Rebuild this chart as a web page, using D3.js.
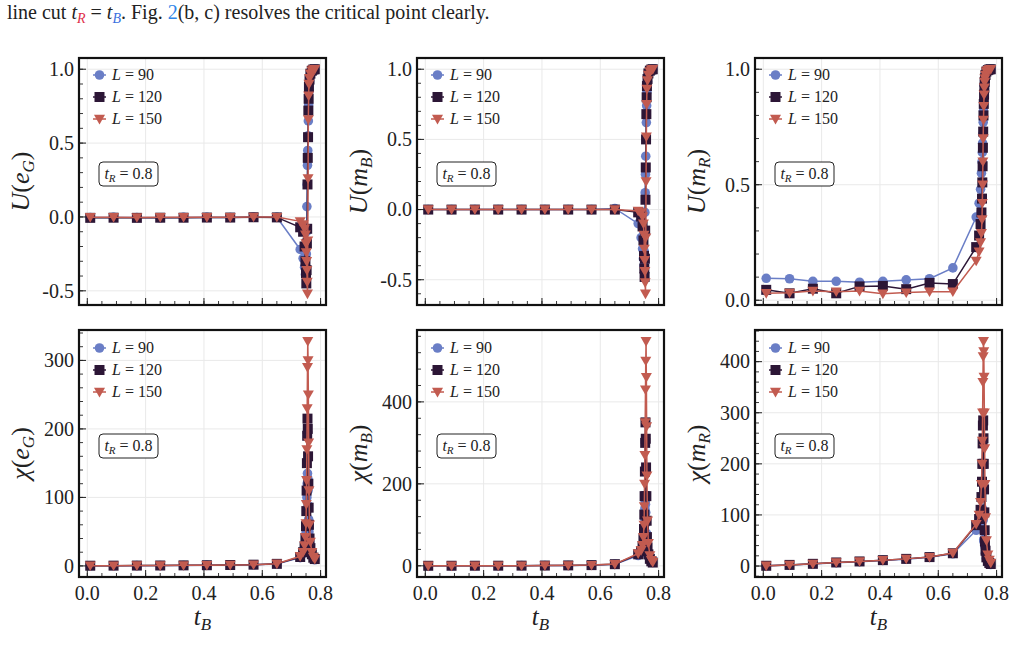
<!DOCTYPE html>
<html>
<head>
<meta charset="utf-8">
<script src="https://cdn.jsdelivr.net/npm/d3@7"></script>
<style>
  body { margin: 0; background: #fff; }
  svg { display: block; font-family: "Liberation Serif", "DejaVu Serif", serif; }
</style>
</head>
<body>
<svg id="chart" width="1025" height="665"></svg>
<script>
// t_B grid: coarse steps, then a fine scan through the transition
const tB = [0.01, 0.09, 0.17, 0.25, 0.33, 0.41, 0.49, 0.57, 0.65,
  0.73, 0.74, 0.745, 0.748, 0.75, 0.751, 0.752, 0.753, 0.754, 0.755,
  0.756, 0.757, 0.758, 0.759, 0.76, 0.762, 0.765, 0.77, 0.775, 0.78];

const sizes = ['90', '120', '150'];

// U(e_G)
const uEG_L90 = [-0.004, -0.003, -0.004, -0.006, -0.003, -0.003, -0.004, 0.0, -0.002,
  -0.22, -0.28, -0.34, -0.39, -0.37, -0.25, -0.10, 0.07, 0.22, 0.35,
  0.45, 0.55, 0.65, 0.76, 0.85, 0.92, 0.96, 0.985, 0.995, 1.0];
const uEG_L120 = [-0.006, -0.005, -0.006, -0.005, -0.005, -0.004, -0.004, -0.002, -0.003,
  -0.07, -0.10, -0.20, -0.30, -0.38, -0.45, -0.36, -0.18, -0.08, 0.22,
  0.40, 0.54, 0.72, 0.80, 0.88, 0.93, 0.97, 0.99, 0.998, 1.0];
const uEG_L150 = [-0.002, -0.002, -0.003, -0.002, -0.002, -0.002, -0.002, 0.0, -0.001,
  -0.03, -0.05, -0.08, -0.12, -0.18, -0.24, -0.30, -0.36, -0.44, -0.52,
  -0.16, 0.26, 0.66, 0.82, 0.90, 0.94, 0.97, 0.99, 0.998, 1.0];

// U(m_B)
const uMB_L90 = [0.0, 0.0, 0.0, 0.0, 0.0, 0.0, 0.0, 0.0, 0.008,
  -0.10, -0.20, -0.28, -0.35, -0.40, -0.30, -0.18, -0.02, 0.12, 0.25,
  0.38, 0.50, 0.62, 0.74, 0.84, 0.91, 0.96, 0.985, 0.995, 1.0];
const uMB_L120 = [0.0, 0.0, 0.0, 0.0, 0.0, 0.0, 0.0, 0.0, 0.0,
  -0.02, -0.05, -0.12, -0.22, -0.33, -0.42, -0.48, -0.35, -0.15, 0.07,
  0.30, 0.50, 0.68, 0.80, 0.88, 0.93, 0.97, 0.99, 0.998, 1.0];
const uMB_L150 = [0.0, 0.0, 0.0, 0.0, 0.0, 0.0, 0.0, 0.0, 0.0,
  -0.01, -0.02, -0.05, -0.10, -0.18, -0.28, -0.36, -0.44, -0.52, -0.60,
  -0.20, 0.20, 0.52, 0.75, 0.86, 0.92, 0.96, 0.985, 0.997, 1.0];

// U(m_R)
const uMR_L90 = [0.095, 0.093, 0.082, 0.082, 0.078, 0.082, 0.088, 0.093, 0.14,
  0.36, 0.42, 0.48, 0.55, 0.60, 0.64, 0.68, 0.72, 0.77, 0.82,
  0.86, 0.90, 0.93, 0.95, 0.965, 0.98, 0.99, 0.996, 0.999, 1.0];
const uMR_L120 = [0.045, 0.03, 0.05, 0.03, 0.06, 0.062, 0.048, 0.075, 0.07,
  0.23, 0.28, 0.33, 0.38, 0.44, 0.51, 0.58, 0.66, 0.73, 0.80,
  0.85, 0.89, 0.92, 0.945, 0.96, 0.975, 0.99, 0.996, 0.999, 1.0];
const uMR_L150 = [0.03, 0.032, 0.04, 0.037, 0.04, 0.028, 0.033, 0.037, 0.037,
  0.17, 0.21, 0.25, 0.29, 0.35, 0.42, 0.50, 0.60, 0.70, 0.78,
  0.84, 0.89, 0.92, 0.945, 0.96, 0.975, 0.99, 0.996, 0.999, 1.0];

// chi(e_G)
const chiEG_L90 = [0.2, 0.3, 0.4, 0.5, 0.7, 0.9, 1.2, 1.7, 2.8,
  12, 18, 25, 35, 48, 62, 80, 100, 120, 135,
  128, 110, 88, 68, 50, 35, 24, 16, 11, 9];
const chiEG_L120 = [0.3, 0.4, 0.5, 0.6, 0.8, 1.0, 1.3, 1.8, 3.0,
  13, 20, 28, 40, 58, 80, 110, 150, 190, 215,
  200, 160, 120, 85, 60, 40, 26, 17, 12, 10];
const chiEG_L150 = [0.3, 0.4, 0.5, 0.6, 0.8, 1.0, 1.3, 1.8, 3.1,
  14, 20, 30, 42, 62, 90, 125, 170, 230, 290,
  328, 300, 250, 180, 110, 60, 35, 20, 13, 10];

// chi(m_B)
const chiMB_L90 = [0.1, 0.15, 0.2, 0.3, 0.4, 0.6, 0.9, 1.5, 3.5,
  25, 32, 42, 55, 72, 92, 115, 140, 158, 150,
  130, 105, 80, 60, 45, 32, 22, 14, 10, 8];
const chiMB_L120 = [0.1, 0.15, 0.2, 0.3, 0.45, 0.65, 1.0, 1.7, 4.0,
  28, 36, 48, 65, 90, 125, 170, 230, 300, 350,
  310, 240, 170, 110, 70, 45, 28, 17, 11, 8];
const chiMB_L150 = [0.1, 0.15, 0.2, 0.3, 0.45, 0.7, 1.1, 1.8, 4.2,
  30, 38, 50, 70, 100, 145, 200, 270, 350, 430,
  500, 548, 460, 340, 220, 110, 55, 25, 14, 9];

// chi(m_R)
const chiMR_L90 = [0.5, 2.0, 4.0, 6.5, 8.5, 11, 13.5, 17, 24,
  70, 75, 82, 90, 100, 108, 112, 105, 90, 70,
  52, 48, 48, 46, 38, 25, 15, 8, 5, 3];
const chiMR_L120 = [0.5, 2.2, 4.3, 7.0, 9.0, 11.5, 14, 17.5, 25,
  80, 92, 110, 135, 165, 200, 240, 275, 285, 250,
  200, 150, 105, 70, 48, 30, 17, 10, 6, 4];
const chiMR_L150 = [0.5, 2.2, 4.3, 7.0, 9.0, 11.5, 14, 17.5, 25.5,
  82, 100, 125, 160, 200, 245, 300, 360, 410, 440,
  420, 370, 300, 230, 160, 95, 50, 22, 12, 6];

// tick values
const xTicks = [0.0, 0.2, 0.4, 0.6, 0.8];
const uTicks = [-0.5, 0.0, 0.5, 1.0];
const uMRTicks = [0.0, 0.5, 1.0];
const chiEGTicks = [0, 100, 200, 300];
const chiMBTicks = [0, 200, 400];
const chiMRTicks = [0, 100, 200, 300, 400];

const colors = ['#6a7ec6', '#2c1636', '#c25b50'];
const shapes = ['circle', 'square', 'triangle'];

// panel table built from the arrays above
const panels = [
  { sym: 'U', arg: 'e', sub: 'G', series: [uEG_L90, uEG_L120, uEG_L150], ticks: uTicks, minor: 0.1, fmt: '.1f' },
  { sym: 'U', arg: 'm', sub: 'B', series: [uMB_L90, uMB_L120, uMB_L150], ticks: uTicks, minor: 0.1, fmt: '.1f' },
  { sym: 'U', arg: 'm', sub: 'R', series: [uMR_L90, uMR_L120, uMR_L150], ticks: uMRTicks, minor: 0.1, fmt: '.1f' },
  { sym: 'χ', arg: 'e', sub: 'G', series: [chiEG_L90, chiEG_L120, chiEG_L150], ticks: chiEGTicks, minor: 20, fmt: 'd' },
  { sym: 'χ', arg: 'm', sub: 'B', series: [chiMB_L90, chiMB_L120, chiMB_L150], ticks: chiMBTicks, minor: 40, fmt: 'd' },
  { sym: 'χ', arg: 'm', sub: 'R', series: [chiMR_L90, chiMR_L120, chiMR_L150], ticks: chiMRTicks, minor: 20, fmt: 'd' }
];

const locale = d3.formatLocale({ decimal: '.', thousands: ',', grouping: [3], currency: ['', ''], minus: '-' });

const svg = d3.select('#chart');
svg.append('rect').attr('width', 1025).attr('height', 665).attr('fill', '#fff');

// running text above the figure
const head = svg.append('text').attr('x', 7).attr('y', 19).attr('font-size', 20).attr('fill', '#222');
head.append('tspan').text('line cut ');
head.append('tspan').attr('font-style', 'italic').text('t');
head.append('tspan').attr('font-style', 'italic').attr('font-size', 14).attr('dy', 4).attr('fill', '#e0304a').text('R');
head.append('tspan').attr('dy', -4).text(' = ');
head.append('tspan').attr('font-style', 'italic').text('t');
head.append('tspan').attr('font-style', 'italic').attr('font-size', 14).attr('dy', 4).attr('fill', '#3a6fe0').text('B');
head.append('tspan').attr('dy', -4).text('. Fig. ');
head.append('tspan').attr('fill', '#2f86e8').text('2');
head.append('tspan').text('(b, c) resolves the critical point clearly.');

const lefts = [79, 417, 755];
const tops = [58, 330];
const W = 247, H = 247;

function markerPath(shape) {
  if (shape === 'circle') return d3.symbol(d3.symbolCircle, 72)();
  if (shape === 'square') return 'M-5,-5H5V5H-5Z';
  return 'M-5.5,-4.2L5.5,-4.2L0,5.4Z';
}

panels.forEach(function (p, i) {
  const col = i % 3, row = Math.floor(i / 3);
  const x0 = lefts[col], y0 = tops[row];
  const g = svg.append('g').attr('transform', 'translate(' + x0 + ',' + y0 + ')');

  // same padding rule as matplotlib's autoscale (5% of the data span)
  const xExt = d3.extent(tB);
  const xPad = (xExt[1] - xExt[0]) * 0.05;
  const x = d3.scaleLinear().domain([xExt[0] - xPad, xExt[1] + xPad]).range([0, W]);
  const yExt = d3.extent(p.series.flat());
  const yPad = (yExt[1] - yExt[0]) * 0.05;
  const y = d3.scaleLinear().domain([yExt[0] - yPad, yExt[1] + yPad]).range([H, 0]);

  const clipId = 'clip' + i;
  g.append('clipPath').attr('id', clipId).append('rect').attr('width', W).attr('height', H);

  // grid
  g.selectAll('.gx').data(xTicks).enter().append('line')
    .attr('x1', d => x(d)).attr('x2', d => x(d)).attr('y1', 0).attr('y2', H)
    .attr('stroke', '#e9e9e9').attr('stroke-width', 1);
  g.selectAll('.gy').data(p.ticks).enter().append('line')
    .attr('x1', 0).attr('x2', W).attr('y1', d => y(d)).attr('y2', d => y(d))
    .attr('stroke', '#e9e9e9').attr('stroke-width', 1);

  // series
  const plot = g.append('g').attr('clip-path', 'url(#' + clipId + ')');
  const line = d3.line().x((d, k) => x(tB[k])).y(d => y(d));
  p.series.forEach(function (vals, s) {
    plot.append('path').datum(vals).attr('d', line)
      .attr('fill', 'none').attr('stroke', colors[s]).attr('stroke-width', 1.5);
    plot.selectAll('.m' + s).data(vals).enter().append('path')
      .attr('d', markerPath(shapes[s]))
      .attr('transform', (d, k) => 'translate(' + x(tB[k]) + ',' + y(d) + ')')
      .attr('fill', colors[s]);
  });

  // legend
  sizes.forEach(function (L, s) {
    const ly = [17, 39, 61][s] + (row ? 1 : 0);
    g.append('line').attr('x1', 14).attr('x2', 27).attr('y1', ly).attr('y2', ly)
      .attr('stroke', colors[s]).attr('stroke-width', 1.5);
    g.append('path').attr('d', markerPath(shapes[s]))
      .attr('transform', 'translate(20.5,' + ly + ')').attr('fill', colors[s]);
    const t = g.append('text').attr('x', 33).attr('y', ly + 5).attr('font-size', 16).attr('fill', '#222');
    t.append('tspan').attr('font-style', 'italic').text('L');
    t.append('tspan').text(' = ' + L);
  });

  // t_R box
  g.append('rect').attr('x', 20).attr('y', 104).attr('width', 59).attr('height', 24).attr('rx', 4)
    .attr('fill', '#fff').attr('stroke', '#222').attr('stroke-width', 1);
  const bt = g.append('text').attr('x', 49.5).attr('y', 121).attr('text-anchor', 'middle')
    .attr('font-size', 16).attr('fill', '#222');
  bt.append('tspan').attr('font-style', 'italic').text('t');
  bt.append('tspan').attr('font-style', 'italic').attr('font-size', 11).attr('dy', 3).text('R');
  bt.append('tspan').attr('dy', -3).text(' = 0.8');

  // ticks, inward on left and bottom
  const xMinor = d3.range(0, 0.8001, 0.05);
  g.selectAll('.xmin').data(xMinor).enter().append('line')
    .attr('x1', d => x(d)).attr('x2', d => x(d)).attr('y1', H).attr('y2', H - 4)
    .attr('stroke', '#222').attr('stroke-width', 0.9);
  g.selectAll('.xmaj').data(xTicks).enter().append('line')
    .attr('x1', d => x(d)).attr('x2', d => x(d)).attr('y1', H).attr('y2', H - 7)
    .attr('stroke', '#222').attr('stroke-width', 1);
  const yd = y.domain();
  const yMinor = d3.range(Math.ceil(yd[0] / p.minor) * p.minor, yd[1], p.minor);
  g.selectAll('.ymin').data(yMinor).enter().append('line')
    .attr('x1', 0).attr('x2', 4).attr('y1', d => y(d)).attr('y2', d => y(d))
    .attr('stroke', '#222').attr('stroke-width', 0.9);
  g.selectAll('.ymaj').data(p.ticks).enter().append('line')
    .attr('x1', 0).attr('x2', 7).attr('y1', d => y(d)).attr('y2', d => y(d))
    .attr('stroke', '#222').attr('stroke-width', 1);

  const fmt = locale.format(p.fmt);
  g.selectAll('.yl').data(p.ticks).enter().append('text')
    .attr('x', -5).attr('y', d => y(d)).attr('dy', '0.34em').attr('text-anchor', 'end')
    .attr('font-size', 20).attr('fill', '#222').text(d => fmt(d));

  if (row === 1) {
    g.selectAll('.xl').data(xTicks).enter().append('text')
      .attr('x', d => x(d)).attr('y', H + 23).attr('text-anchor', 'middle')
      .attr('font-size', 20).attr('fill', '#222').text(d => locale.format('.1f')(d));
    const xl = g.append('text').attr('x', W / 2).attr('y', H + 48).attr('text-anchor', 'middle')
      .attr('font-size', 25).attr('fill', '#222');
    xl.append('tspan').attr('font-style', 'italic').text('t');
    xl.append('tspan').attr('font-style', 'italic').attr('font-size', 17).attr('dy', 5).text('B');
  }

  // y label
  const yl = g.append('text').attr('transform', 'translate(-50,' + (H / 2) + ') rotate(-90)')
    .attr('text-anchor', 'middle').attr('font-size', 26).attr('fill', '#222');
  yl.append('tspan').attr('font-style', 'italic').text(p.sym);
  yl.append('tspan').text('(');
  yl.append('tspan').attr('font-style', 'italic').text(p.arg);
  yl.append('tspan').attr('font-style', 'italic').attr('font-size', 17).attr('dy', 5).text(p.sub);
  yl.append('tspan').attr('dy', -5).text(')');

  // frame
  g.append('rect').attr('width', W).attr('height', H)
    .attr('fill', 'none').attr('stroke', '#111').attr('stroke-width', 2.2);
});
</script>
</body>
</html>
